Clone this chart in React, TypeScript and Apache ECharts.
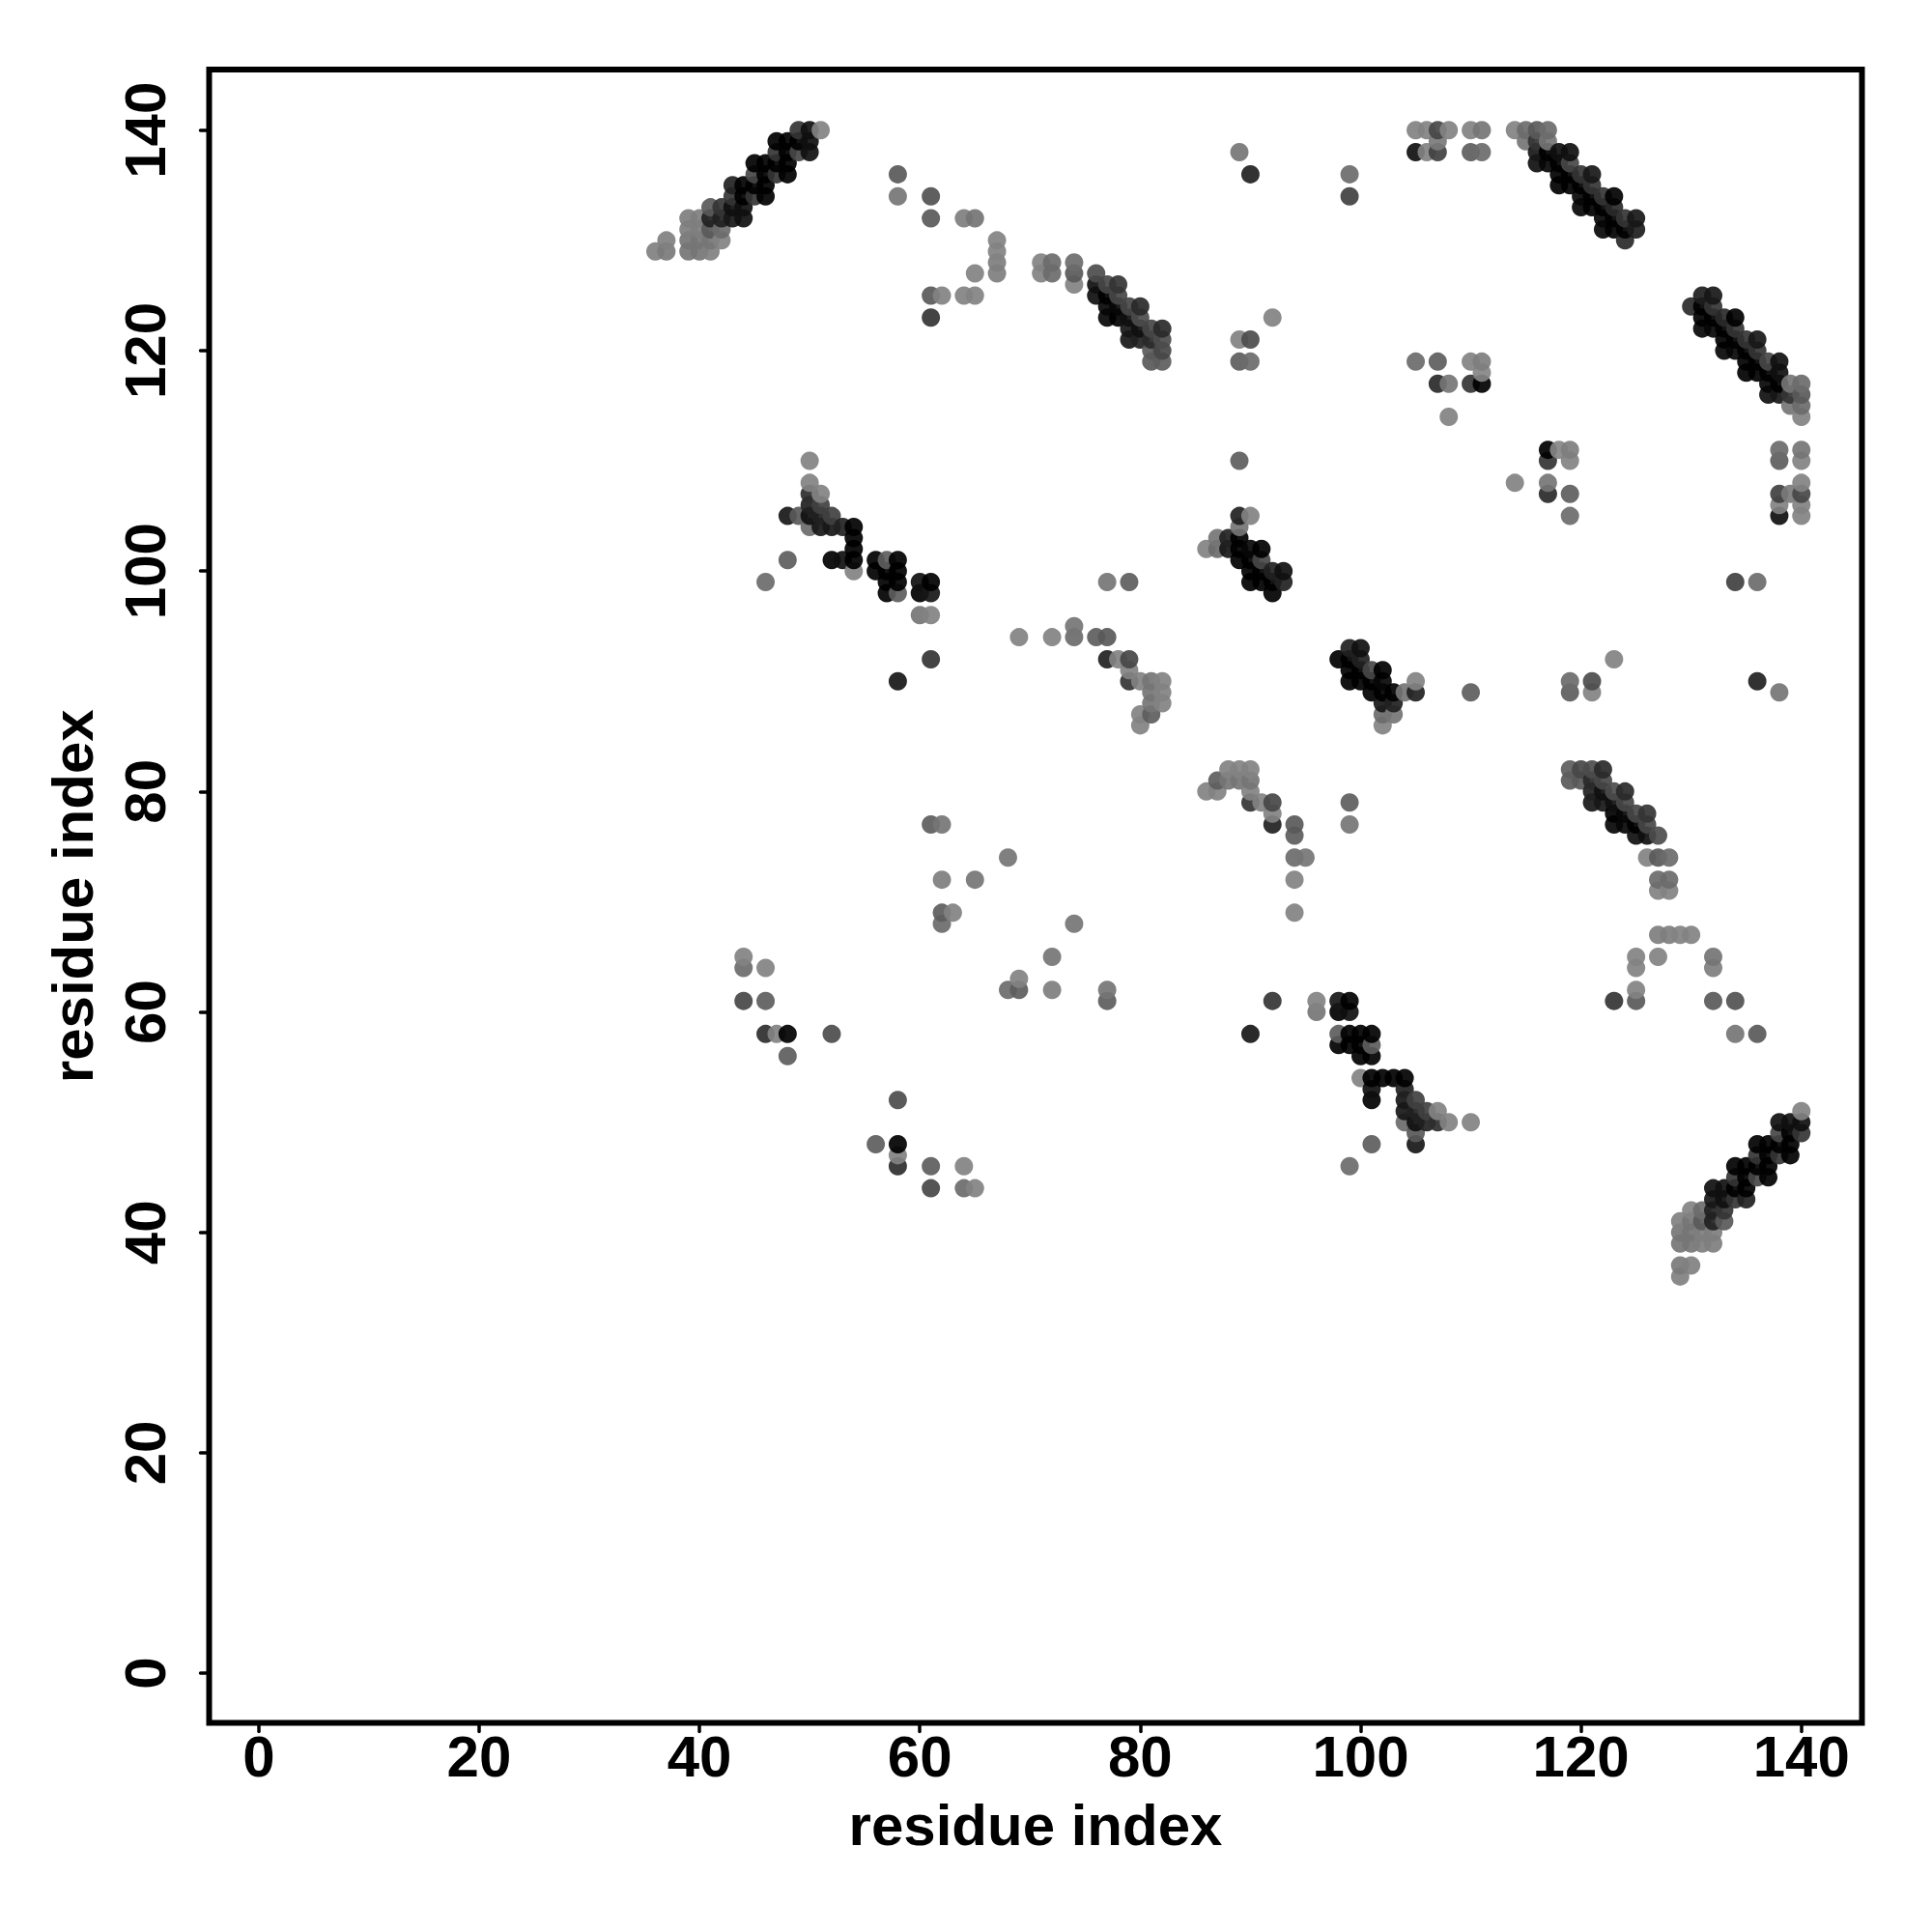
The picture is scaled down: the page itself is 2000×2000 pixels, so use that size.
import React, { useEffect, useRef } from "react";
import * as echarts from "echarts";

// Each contact is [residue i, residue j, grey level]; the map is symmetric, each pair is drawn both ways.
const strandPairA = [
  [49,140,0x44],[50,140,0x22],[51,140,0x8c],
  [47,139,0x0a],[48,139,0x0a],[49,139,0x0a],[50,139,0x22],
  [47,138,0x44],[48,138,0x11],[49,138,0x55],[50,138,0x22],
  [45,137,0x11],[46,137,0x0a],[47,137,0x0a],[48,137,0x11],
  [45,136,0x55],[46,136,0x0a],[47,136,0x44],[48,136,0x11],
  [43,135,0x33],[44,135,0x11],[45,135,0x0a],[46,135,0x0a],
  [43,134,0x44],[44,134,0x0a],[45,134,0x44],[46,134,0x11],
  [41,133,0x66],[42,133,0x44],[43,133,0x22],[44,133,0x22],
  [39,132,0x88],[40,132,0x88],[41,132,0x33],[42,132,0x33],[43,132,0x2a],[44,132,0x22],
  [39,131,0x88],[40,131,0x88],[41,131,0x66],[42,131,0x77],
  [37,130,0x8a],[39,130,0x80],[40,130,0x80],[41,130,0x80],[42,130,0x8c],
  [36,129,0x8a],[37,129,0x84],[39,129,0x80],[40,129,0x80],[41,129,0x8a],
];

const strandPairB = [
  [76,127,0x5a],[76,126,0x22],[76,125,0x22],
  [77,126,0x55],[78,126,0x44],[77,125,0x11],[78,125,0x55],
  [77,124,0x1a],[78,124,0x1a],[79,124,0x55],[80,124,0x3a],
  [77,123,0x1a],[78,123,0x11],[79,123,0x22],[80,123,0x5a],
  [79,122,0x2a],[80,122,0x22],[81,122,0x55],[82,122,0x3a],
  [79,121,0x2a],[80,121,0x33],[81,121,0x3a],[82,121,0x5a],
  [81,120,0x66],[82,120,0x55],[81,119,0x66],[82,119,0x6a],
];

const strandPairC = [
  [114,140,0x8c],[115,140,0x77],[116,140,0x66],[117,140,0x77],
  [115,139,0x80],[116,139,0x44],[117,139,0x80],
  [116,138,0x2a],[117,138,0x0a],[118,138,0x22],[119,138,0x22],
  [116,137,0x22],[117,137,0x1a],[118,137,0x0a],[119,137,0x55],
  [118,136,0x11],[119,136,0x11],[120,136,0x44],[121,136,0x2a],
  [118,135,0x11],[119,135,0x11],[120,135,0x0a],[121,135,0x44],
  [120,134,0x1a],[121,134,0x11],[122,134,0x44],[123,134,0x11],
  [120,133,0x1a],[121,133,0x0a],[122,133,0x11],[123,133,0x3a],
  [122,132,0x1a],[123,132,0x11],[124,132,0x44],[125,132,0x2a],
  [122,131,0x1a],[123,131,0x11],[124,131,0x0a],[125,131,0x2f],
  [124,130,0x3a],
];

const helixContactsD = [
  [89,105,0x33],[90,105,0x8c],[89,104,0x80],
  [87,103,0x80],[88,103,0x33],[89,103,0x11],
  [86,102,0x8c],[87,102,0x77],[88,102,0x2a],[89,102,0x11],[90,102,0x1a],[91,102,0x0a],
  [89,101,0x11],[90,101,0x11],[91,101,0x55],
  [90,100,0x0a],[91,100,0x0a],[92,100,0x33],[93,100,0x22],
  [90,99,0x0a],[91,99,0x0a],[92,99,0x0a],[93,99,0x33],
  [92,98,0x0a],
];

const helixContactsE = [
  [50,110,0x8c],[50,108,0x8c],[50,107,0x3f],[51,107,0x8c],[50,106,0x33],[51,106,0x4f],
  [48,105,0x2a],[49,105,0x66],[50,105,0x22],[51,105,0x33],[52,105,0x4f],
  [50,104,0x77],[51,104,0x2a],[52,104,0x2a],[53,104,0x33],[54,104,0x11],
  [54,103,0x11],[54,102,0x0a],
  [48,101,0x6a],[52,101,0x11],[53,101,0x22],[54,101,0x0a],[56,101,0x00],[57,101,0x6a],[58,101,0x00],
  [54,100,0x8c],[56,100,0x00],[57,100,0x0a],[58,100,0x00],
  [46,99,0x77],[57,99,0x0a],[58,99,0x00],[60,99,0x22],[61,99,0x11],
  [57,98,0x00],[58,98,0x6a],[60,98,0x00],[61,98,0x2a],
  [60,96,0x80],[61,96,0x8c],[61,92,0x44],[58,90,0x2a],
];

const scatteredContacts = [
  [58,136,0x66],[58,134,0x80],[61,134,0x5f],[61,132,0x66],[64,132,0x88],[65,132,0x7f],
  [67,130,0x8c],[67,129,0x8c],[67,128,0x88],[67,127,0x88],[65,127,0x8c],
  [61,125,0x66],[62,125,0x8c],[64,125,0x8c],[65,125,0x8c],[61,123,0x44],
  [71,128,0x8c],[72,128,0x77],[74,128,0x77],[71,127,0x8c],[72,127,0x77],[74,127,0x66],[74,126,0x8c],
  [89,138,0x80],[90,136,0x33],[99,136,0x77],[99,134,0x4f],
  [105,140,0x8c],[106,140,0x8c],[107,140,0x55],[108,140,0x8c],[110,140,0x8c],[111,140,0x80],
  [107,139,0x84],[105,138,0x22],[106,138,0x8c],[107,138,0x4f],[110,138,0x6a],[111,138,0x77],
  [92,123,0x8c],[89,121,0x8c],[90,121,0x5a],[89,119,0x6a],[90,119,0x77],
  [105,119,0x77],[107,119,0x6a],[110,119,0x8c],[111,119,0x88],[111,118,0x90],
  [107,117,0x3a],[108,117,0x80],[110,117,0x44],[111,117,0x00],[108,114,0x8c],[89,110,0x6a],
  [77,99,0x80],[79,99,0x6a],[74,95,0x80],[69,94,0x8c],[72,94,0x8c],[74,94,0x77],[76,94,0x6a],[77,94,0x66],
  [77,92,0x33],[78,92,0x8c],[79,92,0x55],[79,91,0x8c],[79,90,0x44],
  [80,90,0x8c],[81,90,0x80],[82,90,0x8c],[81,89,0x80],[82,89,0x8c],[81,88,0x80],[82,88,0x8c],
  [80,87,0x8c],[81,87,0x6a],[80,86,0x8c],
  [61,77,0x6a],[62,77,0x80],[68,74,0x80],[62,72,0x88],[65,72,0x80],
  [62,69,0x6a],[63,69,0x8c],[62,68,0x77],
  [44,65,0x8c],[44,64,0x77],[46,64,0x8c],[44,61,0x55],[46,61,0x6a],
  [46,58,0x3f],[47,58,0x8c],[48,58,0x11],[52,58,0x5a],[48,56,0x6a],
  [58,52,0x5a],[56,48,0x6a],[58,48,0x0a],[58,47,0x80],[58,46,0x33],
  [61,46,0x6a],[64,46,0x8c],[61,44,0x4f],[64,44,0x77],[65,44,0x8c],
];

const contactsBelowDiagonal = [
  [119,82,0x66],[120,82,0x55],[121,82,0x55],[122,82,0x44],
  [88,82,0x8c],[89,82,0x8c],[90,82,0x8c],
  [87,81,0x77],[88,81,0x80],[89,81,0x80],[90,81,0x80],
  [86,80,0x8c],[87,80,0x8c],[90,80,0x8c],
  [90,79,0x33],[91,79,0x8c],[92,79,0x4f],[92,78,0x8c],[92,77,0x2a],
  [94,77,0x6a],[94,76,0x6a],[94,74,0x77],[95,74,0x77],[94,72,0x8c],[94,69,0x80],
  [99,79,0x66],[99,77,0x77],
  [119,81,0x6a],[120,81,0x66],[121,81,0x3a],[122,81,0x55],
  [121,80,0x33],[122,80,0x22],[123,80,0x55],[124,80,0x44],
  [121,79,0x2a],[122,79,0x22],[123,79,0x33],[124,79,0x5a],
  [123,78,0x1a],[124,78,0x1a],[125,78,0x55],[126,78,0x4a],
  [123,77,0x1a],[124,77,0x11],[125,77,0x22],[126,77,0x55],
  [125,76,0x22],[126,76,0x1a],[127,76,0x5a],
  [126,74,0x88],[127,74,0x5f],[128,74,0x77],
  [127,72,0x6a],[128,72,0x6a],[127,71,0x88],[128,71,0x88],
  [127,67,0x88],[128,67,0x88],[129,67,0x88],[130,67,0x88],
  [125,65,0x8c],[127,65,0x8c],[132,65,0x77],[125,64,0x88],[132,64,0x88],
  [125,62,0x8c],[123,61,0x3f],[125,61,0x66],[132,61,0x5f],[134,61,0x5f],
  [134,58,0x80],[136,58,0x5a],
  [96,61,0x8c],[96,60,0x77],[98,61,0x2a],[99,61,0x1a],[98,60,0x0a],[99,60,0x22],
  [98,58,0x77],[99,58,0x00],[100,58,0x0a],[101,58,0x0a],
  [98,57,0x0a],[99,57,0x0a],[100,57,0x0a],[101,57,0x66],
  [100,56,0x0a],[101,56,0x0a],
  [92,61,0x3f],[90,58,0x22],[77,62,0x80],[77,61,0x66],
  [72,65,0x8c],[72,62,0x8c],[69,63,0x8c],[69,62,0x6a],[68,62,0x77],[74,68,0x80],
];

const tickValues = [0, 20, 40, 60, 80, 100, 120, 140];
const axisTitle = "residue index";
const OPACITY = 0.92;

function grey(level: number) {
  const base = Math.max(0, Math.round((level - 255 * (1 - OPACITY)) / OPACITY));
  return `rgb(${base},${base},${base})`;
}

function buildPoints() {
  const seen = new Map<string, number[]>();
  const add = (x: number, y: number, g: number) => {
    const key = `${x},${y}`;
    if (!seen.has(key)) seen.set(key, [x, y, g]);
  };
  const all = [
    ...strandPairA, ...strandPairB, ...strandPairC,
    ...helixContactsD, ...helixContactsE, ...scatteredContacts, ...contactsBelowDiagonal,
  ];
  for (const [i, j, g] of all) {
    add(i, j, g);
    add(j, i, g);
  }
  return [...seen.values()].sort((a, b) => a[0] - b[0] || a[1] - b[1]);
}

const FONT = "'Liberation Sans'";

export default function App() {
  const ref = useRef<HTMLDivElement>(null);
  useEffect(() => {
    const chart = echarts.init(ref.current!, null, { renderer: "svg" });
    const axis = {
      type: "value",
      min: -4.5,
      max: 145.5,
      name: axisTitle,
      nameLocation: "middle",
      nameTextStyle: { fontFamily: FONT, fontWeight: "bold", fontSize: 60, color: "#000" },
      splitLine: { show: false },
      axisLine: { show: false, onZero: false },
      axisTick: {
        show: true,
        length: 9,
        lineStyle: { color: "#000", width: 3.5, cap: "round" },
        customValues: tickValues,
      },
    };
    const labelStyle = { fontFamily: FONT, fontWeight: "bold", fontSize: 60, color: "#000", customValues: tickValues, showMinLabel: true, showMaxLabel: true };
    chart.setOption({
      animation: false,
      backgroundColor: "#fff",
      grid: {
        left: 216.5,
        top: 72,
        width: 1711,
        height: 1711.5,
        show: true,
        borderColor: "#000",
        borderWidth: 6,
        backgroundColor: "transparent",
      },
      xAxis: { ...axis, nameGap: 75.5, axisLabel: { ...labelStyle, margin: 4.5 } },
      yAxis: { ...axis, nameGap: 111, axisLabel: { ...labelStyle, rotate: 90, margin: 36 } },
      series: [
        {
          type: "scatter",
          data: buildPoints(),
          symbolSize: 19,
          clip: false,
          itemStyle: { color: (p: any) => grey(p.value[2]), opacity: OPACITY },
          emphasis: { disabled: true },
          silent: true,
        },
      ],
    });
    return () => chart.dispose();
  }, []);
  return <div ref={ref} style={{ position: "absolute", left: 0, top: 0, width: 2000, height: 2000 }} />;
}
